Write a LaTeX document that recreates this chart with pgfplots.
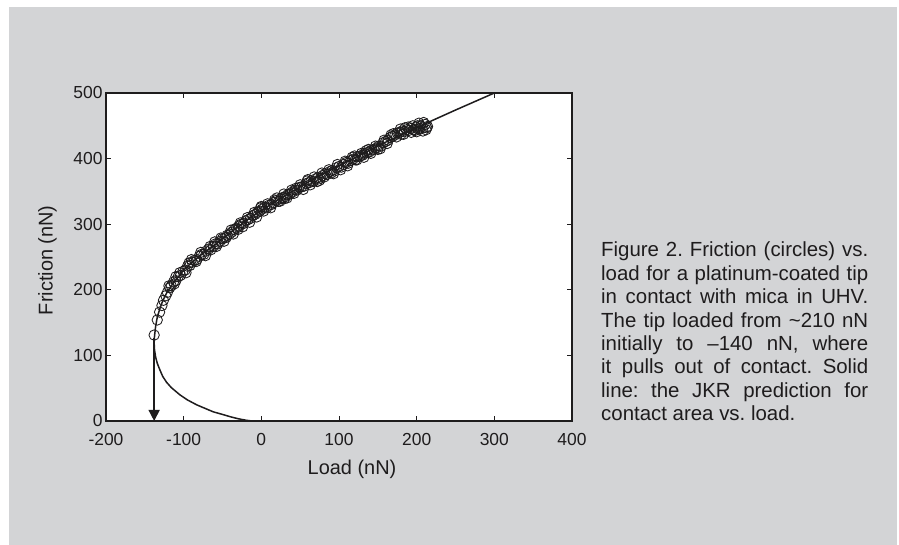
\documentclass[border=0pt]{standalone}
\usepackage{fontspec}
\setmainfont{Liberation Sans}
\usepackage{pgfplots}
\pgfplotsset{compat=1.18}
\usetikzlibrary{arrows.meta}
\definecolor{panel}{RGB}{211,212,214}
\definecolor{ink}{RGB}{30,28,29}
\frenchspacing

\begin{document}
\begin{tikzpicture}[x=1bp,y=1bp]
\fill[white] (0,0) rectangle (899,545);
\fill[panel] (9,0) rectangle (897,538);
\begin{axis}[
  at={(106bp,124bp)}, anchor=south west,
  scale only axis, width=466bp, height=328bp,
  xmin=-200, xmax=400, ymin=0, ymax=500,
  axis background/.style={fill=white},
  axis line style={line width=2bp, ink},
  tick align=inside, major tick length=5bp,
  every tick/.style={ink, line width=0.8bp},
  xtick={-200,-100,...,400}, xticklabels={-200,-100,0,100,200,300,400},
  ytick={0,100,...,500}, yticklabels={0,100,200,300,400,500},
  ticklabel style={font=\fontsize{17.5}{20}\selectfont, text=ink},
  xticklabel style={yshift=-9bp},
  xlabel={Load (nN)}, ylabel={Friction (nN)},
  label style={font=\fontsize{20}{24}\selectfont, text=ink},
  xlabel style={at={(rel axis cs:0.528,-0.1646)}, anchor=base},
  ylabel style={at={(rel axis cs:-0.1144,0.49)}, anchor=base},
]
% JKR prediction (lower branch, then upper branch)
\addplot[ink, line width=1.5bp] coordinates {
  (-12,0) (-20,1.2) (-30,3.5) (-40,6.5) (-50,10) (-62,14) (-72,19) (-83,24.5)
  (-95,32) (-105,40) (-116,51) (-122,59) (-127,68) (-131,79) (-134,88)
  (-136,97) (-137.5,108) (-138,119)
  (-137.5,130) (-136,145) (-134,158) (-131,170) (-127,183) (-122,195)
  (-116,206) (-108,218) (-100,230) (-90,241) (-80,251) (-70,260) (-60,268)
  (-50,278) (-40,287) (-30,296) (-20,305) (-10,313) (0,321) (20,336)
  (40,350) (60,364) (80,377) (100,389) (120,401) (140,413) (160,425)
  (180,436) (200,447) (220,458) (250,474) (275,487) (300,500)};
% pull-off
\addplot[ink, line width=1.5bp, -{Triangle[width=11bp,length=11bp]}]
  coordinates {(-138,126) (-138,0)};
% measured friction
\addplot[only marks, mark=o, mark size=5.2bp,
  mark options={line width=0.85bp, draw=ink}] coordinates {
  (-138,131) (-134,154) (-131,166) (-128,176) (-126,184) (-123,191)
  (-121,196) (-118,203) (-116,206) (-113,212) (-110,214) (-107,220)
  (-104,222) (-101,228) (-98,230) (-95,236) (-92,237) (-89,242)
  (-86,245) (-83,246) (-80,251) (-77,254) (-74,254) (-71,259)
  (-68,262) (-65,261) (-62,266) (-59,270) (-56,270) (-53,274)
  (-50,278) (-47,279) (-44,283) (-41,285) (-38,288) (-35,292)
  (-32,294) (-29,297) (-26,300) (-23,301) (-20,305) (-17,307)
  (-14,309) (-11,313) (-8,315) (-5,318) (-2,320) (1,323)
  (4,326) (7,325) (10,329) (13,330) (16,333) (19,336)
  (22,335) (25,339) (28,341) (31,342) (34,345) (37,346)
  (40,349) (43,352) (46,352) (49,356) (52,357) (55,358)
  (58,362) (61,363) (64,366) (67,365) (70,369) (73,371)
  (76,370) (79,374) (82,377) (85,376) (88,380) (91,382)
  (94,381) (97,386) (100,388) (103,387) (106,391) (109,394)
  (112,393) (115,397) (118,399) (121,398) (124,403) (127,404)
  (130,405) (133,408) (136,409) (139,410) (142,413) (145,414)
  (148,416) (151,419) (154,419) (157,424) (160,426) (163,428)
  (166,432) (169,434) (172,436) (175,439) (178,440) (181,442)
  (184,441) (187,444) (190,443) (193,446) (196,444) (199,448)
  (202,445) (205,450) (208,447) (211,452) (214,449) (208,442)
  (200,441) (193,440) (203,454) (212,444)
  (-110,220) (-90,246) (-60,273) (-45,280) (-30,292) (0,327)
  (20,340) (30,339) (45,355) (60,368) (75,367) (90,378)
  (120,404) (135,412) (150,414) (170,438) (180,437) (185,447) (195,450)
  (-119,206) (-112,209) (-105,226) (-97,226) (-93,241) (-84,243)
  (-78,257) (-72,252) (-66,266) (-58,266) (-52,279) (-48,274)
  (-39,291) (-36,285) (-27,302) (-24,296) (-18,310) (-15,303)
  (-9,318) (-6,311) (-1,325) (3,320) (8,331) (12,325)
  (17,337) (24,335) (29,346) (33,340) (39,352) (42,347)
  (50,360) (54,353) (59,366) (63,360) (68,372) (72,365)
  (78,378) (81,372) (87,383) (93,377) (98,391) (102,383)
  (108,396) (111,389) (117,402) (123,398) (129,408) (132,402)
  (138,414) (141,408) (147,419) (153,415) (158,428) (162,423)
  (167,436) (174,433) (179,445) (183,437) (189,448) (198,443)
  (204,446) (209,455) (213,447) (201,450)};
\end{axis}
\begin{scope}[every node/.style={anchor=base west, inner sep=0pt, text=ink,
    font=\fontsize{20.5}{23.4}\selectfont}]
\node at (601,288.0) {\makebox[267bp][s]{Figure 2. Friction (circles) vs.}};
\node at (601,264.6) {\makebox[267bp][s]{load for a platinum-coated tip}};
\node at (601,241.2) {\makebox[267bp][s]{in contact with mica in UHV.}};
\node at (601,217.8) {\makebox[267bp][s]{The tip loaded from \textasciitilde210 nN}};
\node at (601,194.4) {\makebox[267bp][s]{initially to --140 nN, where}};
\node at (601,171.0) {\makebox[267bp][s]{it pulls out of contact. Solid}};
\node at (601,147.6) {\makebox[267bp][s]{line: the JKR prediction for}};
\node at (601,124.2) {contact area vs. load.};
\end{scope}
\end{tikzpicture}
\end{document}
